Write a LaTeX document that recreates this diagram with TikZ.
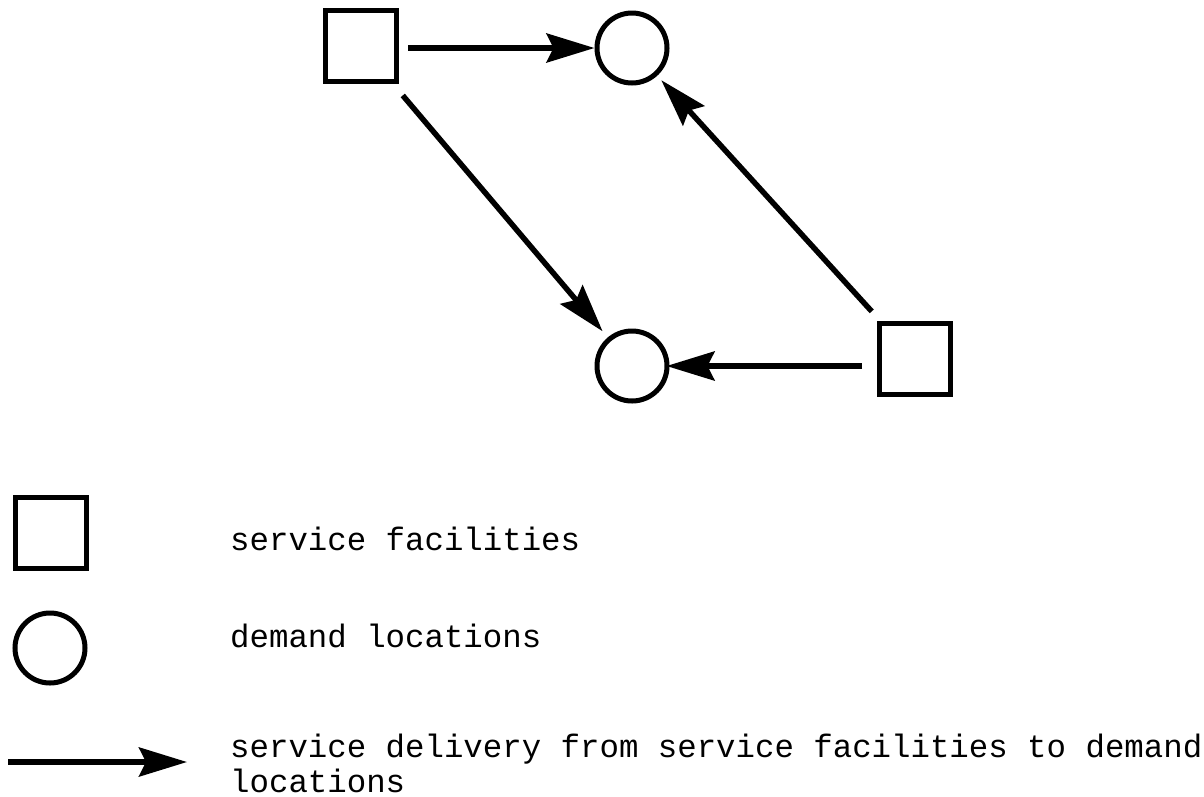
\documentclass[tikz,border=0pt]{standalone}
\usepackage{fontspec}
\setmainfont{Liberation Mono}
\usetikzlibrary{arrows.meta}
\tikzset{
  facility/.style={draw, line width=5pt, rectangle, minimum size=71pt, inner sep=0pt},
  demand/.style={draw, line width=5pt, circle, minimum size=70pt, inner sep=0pt},
  delivery/.style={line width=5.5pt, -{Stealth[length=48pt, width=29pt, inset=7pt]}},
  legendtext/.style={anchor=base west, inner sep=0pt, align=left,
    font=\fontsize{32.4}{35}\selectfont}
}
\begin{document}
\begin{tikzpicture}[x=1pt, y=-1pt]
  \useasboundingbox (0,0) rectangle (1204,796);

  % network of facilities and demand points
  \node[facility] (f1) at (361,46) {};
  \node[demand]   (d1) at (632,48) {};
  \node[demand]   (d2) at (632,366) {};
  \node[facility] (f2) at (915,359) {};

  \draw[delivery, shorten <=9pt] (f1.east |- d1.west) -- (d1.west);
  \draw[delivery, shorten <=15pt, shorten >=8pt] (f1) -- (d2);
  \draw[delivery, shorten <=13pt, shorten >=6pt] (f2) -- (d1);
  \draw[delivery, shorten <=15pt, shorten >=-3pt] (f2.west |- d2.east) -- (d2.east);

  % legend
  \node[facility] (lf) at (51,533) {};
  \node[demand]   (ld) at (50,648) {};
  \coordinate (la) at (8,762);
  \coordinate (lb) at (187,762);
  \draw[delivery] (la) -- (lb);

  \node[legendtext] (tf) at (230,550) {service facilities};
  \node[legendtext] (td) at (230,647) {demand locations};
  % base anchor of a two-line node sits on its last line
  \node[legendtext] (ta) at (230,792) {service delivery from service facilities to demand\\locations};
\end{tikzpicture}
\end{document}
